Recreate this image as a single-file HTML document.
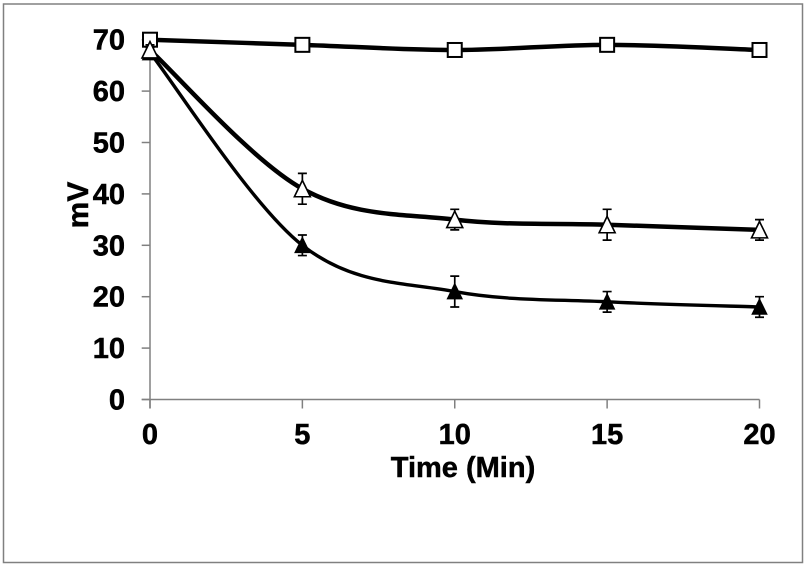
<!DOCTYPE html>
<html>
<head>
<meta charset="utf-8">
<style>
html,body{margin:0;padding:0;background:#fff;width:807px;height:567px;overflow:hidden}
svg{display:block}
text{font-family:"Liberation Sans",sans-serif;font-weight:bold;font-size:29px;fill:#000;stroke:#000;stroke-width:0.5px}
</style>
</head>
<body>
<svg id="chart" xmlns="http://www.w3.org/2000/svg" width="807" height="567" viewBox="0 0 807 567">
<rect x="3.5" y="4" width="799" height="558.5" fill="#fff" stroke="#808080" stroke-width="1.5"/>
<text x="463" y="477" text-anchor="middle">Time (Min)</text>
<text style="font-size:30px" transform="translate(88,205) rotate(-90)" text-anchor="middle">mV</text>
</svg>
<script>
const xTicks = [0, 5, 10, 15, 20];
const yTicks = [0, 10, 20, 30, 40, 50, 60, 70];
const squareValues = [70, 69, 68, 69, 68];
const filledValues = [67.5, 30, 21, 19, 18];
const filledErrors = [1, 2, 3, 2, 2];
const openValues = [68, 41, 35, 34, 33];
const openErrors = [1, 3, 2, 3, 2];

const NS = 'http://www.w3.org/2000/svg';
const svg = document.getElementById('chart');
const sx = v => 150 + v * (759.5 - 150) / 20;
const sy = v => 399.5 - v * (399.5 - 39.7) / 70;

function add(tag, attrs, text) {
  const el = document.createElementNS(NS, tag);
  for (const k in attrs) el.setAttribute(k, attrs[k]);
  if (text !== undefined) el.textContent = text;
  svg.appendChild(el);
  return el;
}

function smoothPath(values) {
  const p = values.map((v, i) => [sx(xTicks[i]), sy(v)]);
  let d = 'M' + p[0][0] + ' ' + p[0][1];
  for (let i = 0; i < p.length - 1; i++) {
    const a = p[Math.max(i - 1, 0)], b = p[i], c = p[i + 1], e = p[Math.min(i + 2, p.length - 1)];
    const c1 = [b[0] + (c[0] - a[0]) / 6, b[1] + (c[1] - a[1]) / 6];
    const c2 = [c[0] - (e[0] - b[0]) / 6, c[1] - (e[1] - b[1]) / 6];
    d += 'C' + c1[0] + ' ' + c1[1] + ' ' + c2[0] + ' ' + c2[1] + ' ' + c[0] + ' ' + c[1];
  }
  return d;
}

let node;
node = add('line', {x1: sx(0), x2: sx(0), y1: sy(70), y2: 408.5, stroke: '#808080', 'stroke-width': 1.5});


node = add('line', {x1: 141.7, x2: sx(20), y1: sy(0), y2: sy(0), stroke: '#808080', 'stroke-width': 1.5});



yTicks.forEach(t => {
  const tick = add('line', {x1: 141.7, x2: 150, y1: sy(t), y2: sy(t), stroke: '#808080', 'stroke-width': 1.5});
  
  
  const label = add('text', {x: 125, y: sy(t) + 10, 'text-anchor': 'end'}, String(t));
  
  
});
xTicks.forEach(t => {
  const tick = add('line', {x1: sx(t), x2: sx(t), y1: sy(0), y2: 408.5, stroke: '#808080', 'stroke-width': 1.5});
  
  
  const label = add('text', {x: sx(t), y: 444, 'text-anchor': 'middle'}, String(t));
  
  
});

function errorBars(values, errors, prefix) {
  values.forEach((v, i) => {
    const x = sx(xTicks[i]), top = sy(v + errors[i]), bot = sy(v - errors[i]);
    const bar = add('path', {
      d: 'M' + x + ' ' + top + 'V' + bot + 'M' + (x - 4.5) + ' ' + top + 'H' + (x + 4.5) + 'M' + (x - 4.5) + ' ' + bot + 'H' + (x + 4.5),
      fill: 'none', stroke: '#000', 'stroke-width': 1.7
    });
    
    
  });
}

function triangles(values, prefix, fill, r) {
  values.forEach((v, i) => {
    const x = sx(xTicks[i]), y = sy(v);
    const tri = add('polygon', {
      points: x + ',' + (y - r * 1.05) + ' ' + (x + r) + ',' + (y + r) + ' ' + (x - r) + ',' + (y + r),
      fill: fill, stroke: '#000', 'stroke-width': 1.6, 'stroke-linejoin': 'miter'
    });
    
    
  });
}

node = add('path', {d: smoothPath(squareValues), fill: 'none', stroke: '#000', 'stroke-width': 4.5});


squareValues.forEach((v, i) => {
  const sq = add('rect', {x: sx(xTicks[i]) - 7, y: sy(v) - 7, width: 14, height: 14, fill: '#fff', stroke: '#000', 'stroke-width': 2});
  
  
});

errorBars(filledValues, filledErrors, 'filled-triangle');
node = add('path', {d: smoothPath(filledValues), fill: 'none', stroke: '#000', 'stroke-width': 3.4});


triangles(filledValues, 'filled-triangle', '#000', 7);

errorBars(openValues, openErrors, 'open-triangle');
node = add('path', {d: smoothPath(openValues), fill: 'none', stroke: '#000', 'stroke-width': 4.5});


triangles(openValues, 'open-triangle', '#fff', 8);
</script>
</body>
</html>
